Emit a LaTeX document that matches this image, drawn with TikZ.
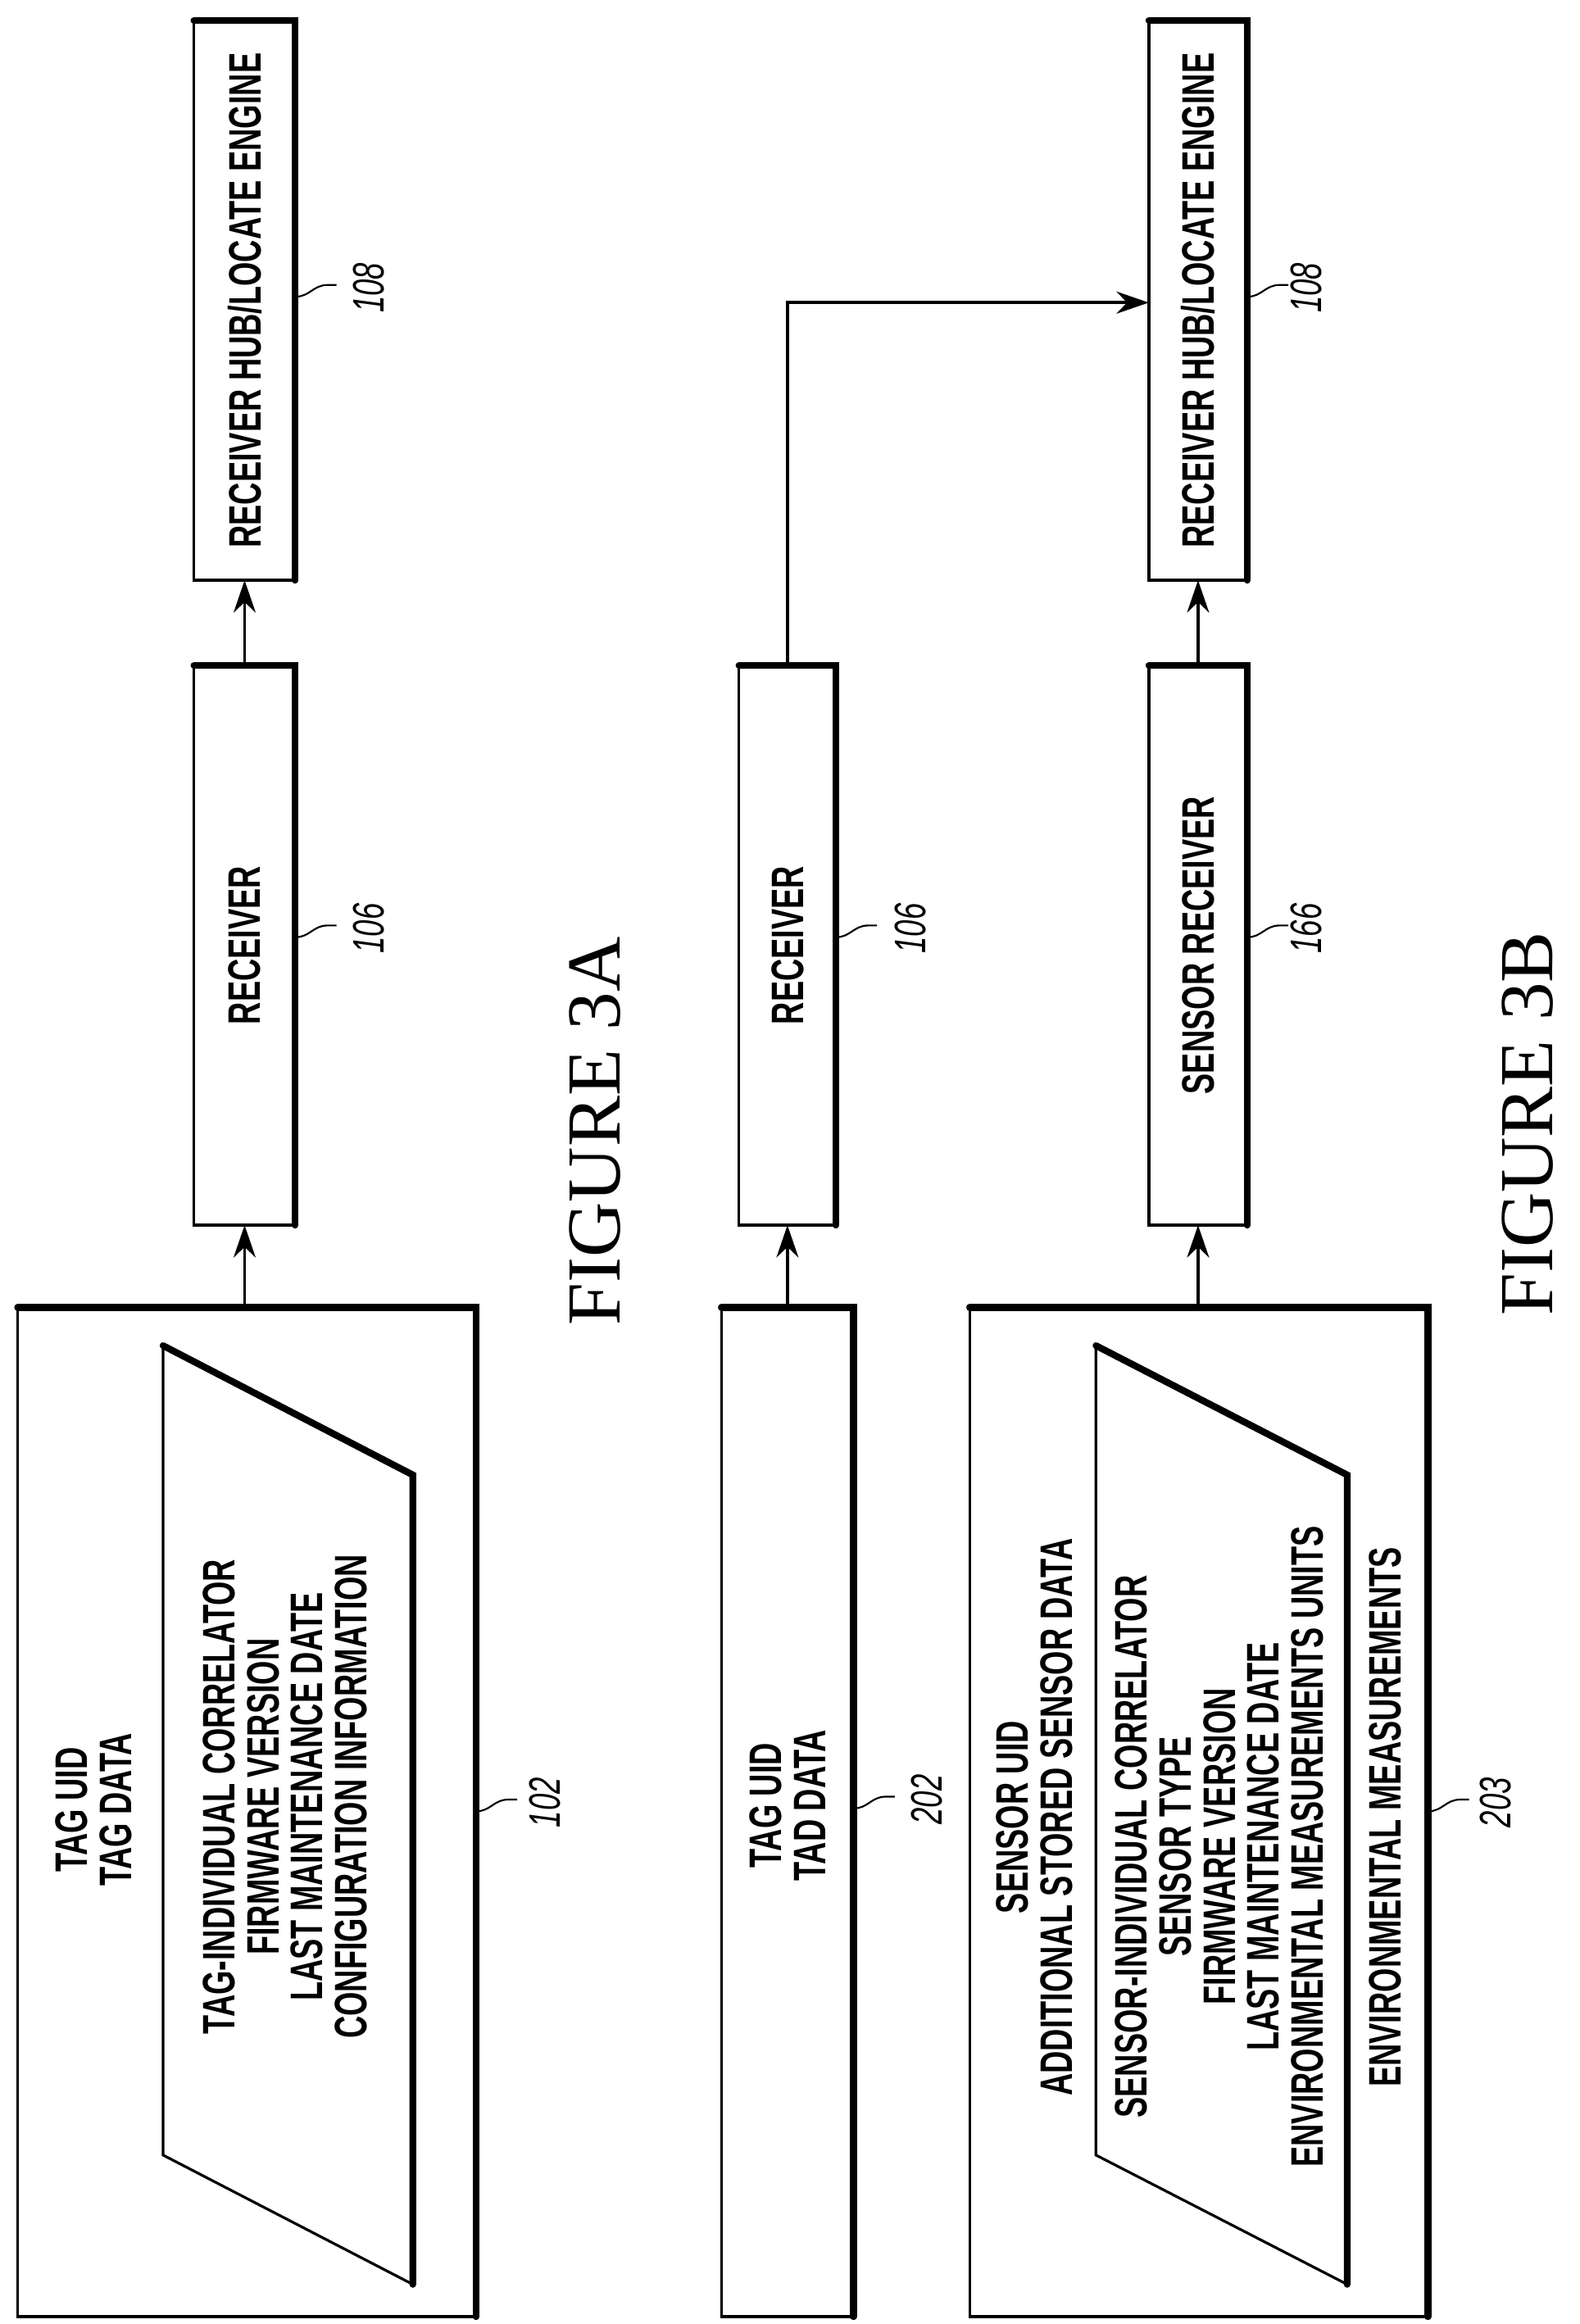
\documentclass[tikz,border=0pt]{standalone}
\usepackage{fontspec}
\setmainfont{Liberation Sans}[FakeStretch=0.68]
\newfontfamily\figfont{Liberation Serif}
\usetikzlibrary{arrows.meta}
\begin{document}
\begin{tikzpicture}[x=0.5pt,y=-0.5pt,
  box/.style={draw,line width=0.9pt,inner sep=0,outer sep=0},
  heavy/.style={line width=2.3pt,line cap=round},
  txt/.style={rotate=90,align=center,font=\bfseries\fontsize{15.5}{15}\selectfont,inner sep=0},
  num/.style={rotate=90,font=\itshape\fontsize{15}{15}\selectfont,inner sep=0},
  fig/.style={rotate=90,font=\figfont\fontsize{26}{26}\selectfont,inner sep=0},
  arr/.style={line width=1.1pt,-{Stealth[length=11pt,width=7.5pt]}},
  lead/.style={line width=0.6pt}]
\useasboundingbox (0,0) rectangle (1075,1582);
% boxes
\node[box,minimum width=34.5pt,minimum height=190.5pt] (hubA) at (166.5,204.5) {};
\node[box,minimum width=34.5pt,minimum height=190.5pt] (recA) at (166.5,643.5) {};
\node[box,minimum width=156pt,minimum height=343.5pt] (b102) at (168,1233.5) {};
\node[box,minimum width=33pt,minimum height=190.5pt] (recB) at (536,643.5) {};
\node[box,minimum width=33.5pt,minimum height=190.5pt] (senB) at (815.5,643.5) {};
\node[box,minimum width=33.5pt,minimum height=190.5pt] (hubB) at (815.5,204.5) {};
\node[box,minimum width=45pt,minimum height=343.5pt] (b202) at (536,1233.5) {};
\node[box,minimum width=156pt,minimum height=343.5pt] (b203) at (816,1233.5) {};
\foreach \n in {hubA,recA,b102,recB,senB,hubB,b202,b203}
  \draw[heavy] (\n.north west) -- (\n.north east) -- (\n.south east);
% parallelograms
\draw[line width=0.9pt] (111,916) -- (281,1004) -- (281,1555) -- (111,1467) -- cycle;
\draw[heavy] (111,916) -- (281,1004) -- (281,1555);
\draw[line width=0.9pt] (746,916) -- (917,1004) -- (917,1555) -- (746,1467) -- cycle;
\draw[heavy] (746,916) -- (917,1004) -- (917,1555);
% texts
\node[txt] (tHubA) at (hubA) {RECEIVER HUB/LOCATE ENGINE};
\node[txt] (tRecA) at (recA) {RECEIVER};
\node[txt] (tHubB) at (hubB) {RECEIVER HUB/LOCATE ENGINE};
\node[txt] (tRecB) at (recB) {RECEIVER};
\node[txt] (tSenB) at (senB) {SENSOR RECEIVER};
\node[txt] (t102a) at (64,1232) {TAG UID\\TAG DATA};
\node[txt] (t102b) at (194,1223) {TAG-INDIVIDUAL CORRELATOR\\FIRMWARE VERSION\\LAST MAINTENANCE DATE\\CONFIGURATION INFORMATION};
\node[txt] (t202) at (536,1229) {TAG UID\\TAD DATA};
\node[txt] (t203a) at (704,1237) {SENSOR UID\\ADDITIONAL STORED SENSOR DATA};
\node[txt] (t203b) at (830,1257) {SENSOR-INDIVIDUAL CORRELATOR\\SENSOR TYPE\\FIRMWARE VERSION\\LAST MAINTENANCE DATE\\ENVIRONMENTAL MEASUREMENTS UNITS};
\node[txt] (t203c) at (943,1237) {ENVIRONMENTAL MEASUREMENTS};
\node[fig] (figA) at (405,770) {FIGURE 3A};
\node[fig] (figB) at (1040,765) {FIGURE 3B};
% connectors
\draw[arr] (recA.south |- b102.north) -- (recA.south);
\draw[arr] (recA.north) -- (hubA.south);
\draw[arr] (recB.south |- b202.north) -- (recB.south);
\draw[arr] (senB.south |- b203.north) -- (senB.south);
\draw[arr] (senB.north) -- (hubB.south);
\coordinate (bend) at (536,206);
\draw[arr] (recB.north) -- (bend) -- (bend -| hubB.west);
% reference labels
\node[num] (n108a) at (251,196) {108};
\node[num] (n106a) at (251,632) {106};
\node[num] (n108b) at (889,196) {108};
\node[num] (n106b) at (620,632) {106};
\node[num] (n166) at (889,632) {166};
\node[num] (n102) at (371,1227) {102};
\node[num] (n202) at (631,1225) {202};
\node[num] (n203) at (1018,1227) {203};
\foreach \b/\n in {hubA/n108a,recA/n106a,hubB/n108b,recB/n106b,senB/n166,b102/n102,b202/n202,b203/n203}
  \draw[lead] (\b.east |- \n.center) ++(0,6) .. controls ++(10,0) and ++(-10,0) .. ++(22,-8) -- ++(6,0);
\end{tikzpicture}
\end{document}
